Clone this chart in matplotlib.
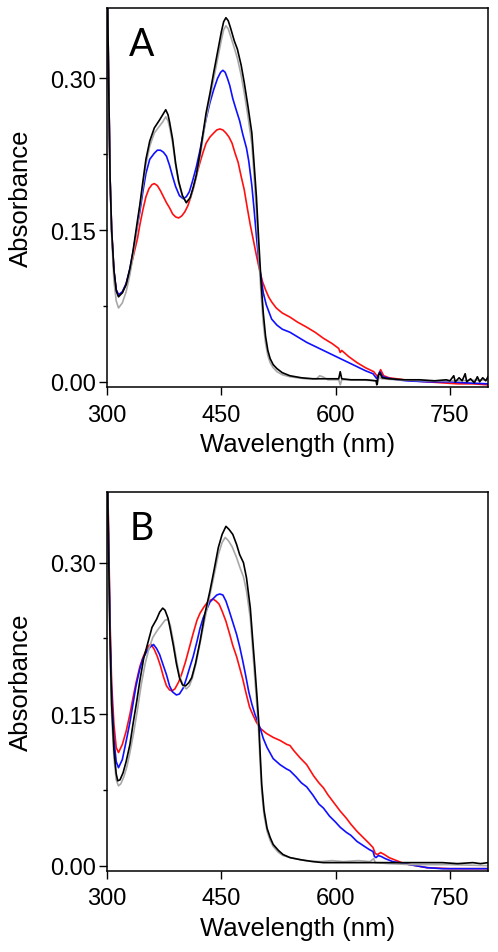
import matplotlib
matplotlib.use("Agg")
import matplotlib.pyplot as plt
from matplotlib.ticker import MultipleLocator, FormatStrFormatter

plt.rcParams['font.family'] = ['Liberation Sans', 'DejaVu Sans']

# ---- panel A spectra ----
a_black_nm = [300, 302, 304, 306, 309, 312, 315, 320, 325, 330, 334, 340, 343, 347, 351, 356, 362, 369, 373, 377,
              380, 382, 386, 390, 394, 399, 404, 409, 413, 417, 422, 426, 430, 435, 440, 444, 450, 453, 456, 459,
              462, 467, 471, 476, 480, 485, 490, 493, 496, 499, 502, 505, 508, 511, 514, 518, 523, 530, 540, 555,
              570, 590, 604, 606, 608, 620, 640, 653, 654, 656, 658, 661, 670, 690, 710, 730, 745, 750, 755, 757,
              762, 766, 770, 772, 777, 782, 786, 789, 793, 797, 800]
a_black_abs = [.42, .30, .20, .15, .11, .090, .084, .088, .096, .112, .129, .160, .175, .198, .220, .238, .251, .259, .264, .269,
               .264, .257, .240, .216, .198, .184, .177, .182, .192, .204, .226, .246, .266, .285, .306, .322, .346, .356, .360, .357,
               .350, .337, .329, .313, .296, .272, .246, .215, .183, .140, .100, .068, .045, .031, .023, .017, .013, .009, .006, .004,
               .003, .003, .003, .010, .003, .002, .002, .001, -.003, .006, .009, .004, .003, .002, .002, .001, .002, .001, .006, .000,
               .004, .001, .008, .000, .003, -.001, .005, .000, .004, .001, .005]

a_gray_nm = [300, 302, 304, 306, 309, 312, 315, 320, 325, 330, 334, 340, 343, 347, 351, 356, 362, 369, 373, 377,
             380, 382, 386, 390, 394, 399, 404, 409, 413, 417, 422, 426, 430, 435, 440, 444, 450, 453, 456, 459,
             462, 467, 471, 476, 480, 485, 490, 493, 496, 499, 502, 505, 508, 511, 514, 518, 523, 530, 540, 560,
             575, 579, 583, 590, 604, 606, 608, 630, 653, 655, 657, 660, 680, 720, 760, 800]
a_gray_abs = [.42, .30, .20, .145, .10, .080, .073, .078, .089, .106, .124, .156, .172, .194, .215, .233, .246, .253, .257, .262,
              .258, .252, .236, .214, .197, .183, .178, .181, .190, .202, .222, .242, .261, .280, .300, .315, .338, .348, .352, .349,
              .342, .330, .320, .303, .286, .262, .235, .203, .168, .126, .088, .058, .038, .026, .019, .014, .010, .007, .005, .003,
              .003, .006, .005, .002, .002, -.003, .002, .002, .001, -.002, .005, .003, .002, .001, .001, .002]

a_blue_nm = [300, 302, 304, 306, 309, 312, 315, 320, 325, 330, 335, 340, 343, 347, 351, 356, 362, 366, 370, 374,
             378, 382, 386, 390, 395, 400, 404, 408, 412, 417, 422, 426, 430, 435, 440, 445, 449, 452, 455, 458,
             461, 465, 469, 474, 478, 483, 486, 490, 493, 496, 499, 501, 505, 509, 516, 523, 530, 540, 551, 562,
             573, 584, 595, 606, 617, 628, 639, 649, 654, 658, 662, 667, 680, 693, 720, 750, 770, 800]
a_blue_abs = [.42, .30, .20, .15, .11, .091, .086, .089, .097, .112, .132, .155, .168, .188, .206, .220, .226, .229, .229, .227,
              .223, .214, .203, .193, .184, .181, .183, .188, .198, .212, .229, .245, .260, .276, .289, .300, .306, .308, .306, .300,
              .293, .280, .270, .258, .245, .231, .218, .194, .170, .144, .120, .109, .088, .076, .062, .056, .052, .049, .044, .039,
              .035, .031, .027, .023, .019, .015, .011, .008, .003, .010, .005, .004, .002, .001, .000, .000, -.001, -.002]

a_red_nm = [300, 302, 304, 306, 309, 312, 315, 320, 325, 330, 335, 340, 343, 347, 351, 355, 359, 362, 366, 370,
            374, 378, 382, 386, 390, 394, 398, 402, 406, 410, 414, 418, 422, 426, 430, 435, 440, 444, 448, 452,
            456, 460, 464, 468, 472, 476, 480, 484, 488, 492, 496, 500, 504, 508, 512, 516, 522, 530, 540, 550,
            562, 573, 584, 595, 604, 606, 608, 617, 628, 639, 650, 655, 659, 663, 670, 680, 700, 720, 740, 760,
            780, 800]
a_red_abs = [.42, .30, .20, .15, .11, .091, .086, .088, .097, .110, .126, .142, .155, .170, .183, .191, .195, .196, .194, .189,
             .183, .177, .172, .166, .163, .162, .164, .168, .174, .183, .194, .206, .217, .227, .236, .242, .246, .249, .250, .249,
             .246, .242, .236, .226, .217, .203, .190, .172, .155, .140, .125, .111, .099, .091, .084, .079, .073, .068, .064, .059,
             .054, .049, .043, .038, .033, .029, .031, .025, .019, .014, .010, .005, .012, .006, .004, .003, .001, .000, -.001, -.002,
             -.002, -.003]

# ---- panel B spectra ----
b_black_nm = [300, 302, 304, 306, 309, 312, 314, 317, 321, 325, 330, 334, 339, 343, 348, 354, 359, 365, 369, 373,
              376, 380, 383, 387, 391, 395, 399, 403, 407, 411, 416, 422, 428, 435, 440, 446, 451, 456, 460, 465,
              470, 474, 479, 483, 488, 491, 494, 497, 499, 501, 503, 506, 510, 514, 518, 525, 531, 540, 553, 570,
              584, 620, 660, 700, 740, 760, 780, 790, 800]
b_black_abs = [.42, .31, .22, .16, .115, .091, .084, .085, .092, .103, .120, .140, .163, .183, .205, .222, .236, .244, .251, .255,
               .253, .245, .234, .218, .200, .186, .179, .178, .181, .186, .200, .222, .248, .272, .291, .315, .328, .336, .333, .328,
               .318, .308, .300, .285, .255, .225, .196, .165, .143, .110, .080, .055, .037, .028, .021, .015, .011, .008, .006, .004,
               .003, .003, .003, .003, .003, .002, .003, .002, .003]

b_gray_nm = [300, 302, 304, 306, 309, 312, 315, 318, 322, 326, 330, 335, 340, 345, 350, 355, 360, 366, 371, 376,
             380, 383, 387, 391, 395, 400, 404, 408, 412, 417, 422, 428, 435, 440, 446, 451, 455, 459, 464, 470,
             474, 479, 483, 488, 491, 494, 497, 499, 501, 503, 506, 510, 514, 518, 525, 531, 540, 560, 580, 595,
             610, 630, 645, 650, 652, 670, 700, 750, 800]
b_gray_abs = [.42, .30, .21, .15, .107, .085, .079, .081, .088, .098, .112, .132, .155, .180, .200, .215, .226, .233, .238, .243,
              .244, .238, .222, .204, .188, .178, .175, .178, .186, .201, .220, .243, .268, .286, .308, .320, .325, .322, .316, .305,
              .296, .286, .272, .245, .215, .185, .155, .132, .100, .073, .050, .034, .025, .019, .013, .010, .008, .005, .004, .005,
              .004, .005, .004, .007, .003, .002, .001, .001, .000]

b_blue_nm = [300, 302, 304, 306, 309, 312, 315, 320, 325, 330, 334, 338, 343, 347, 352, 356, 361, 365, 369, 373,
             378, 382, 386, 391, 395, 400, 404, 408, 413, 418, 422, 426, 431, 435, 440, 444, 448, 452, 456, 460,
             465, 470, 474, 478, 482, 486, 490, 494, 501, 505, 510, 518, 527, 535, 540, 548, 555, 562, 570, 578,
             584, 592, 600, 606, 614, 620, 628, 636, 644, 649, 651, 653, 656, 660, 665, 675, 690, 705, 720, 740,
             800]
b_blue_abs = [.42, .32, .23, .17, .125, .103, .097, .105, .123, .142, .160, .178, .195, .205, .212, .216, .219, .215, .209, .200,
              .189, .178, .172, .169, .170, .176, .185, .195, .207, .222, .235, .245, .254, .261, .265, .268, .269, .268, .262, .253,
              .241, .229, .217, .203, .188, .172, .160, .150, .136, .126, .117, .106, .100, .096, .094, .088, .082, .078, .070, .061,
              .057, .049, .043, .038, .033, .030, .024, .020, .016, .014, .009, .008, .010, .009, .007, .004, .002, .000, -.002, -.003,
              -.003]

b_red_nm = [300, 302, 304, 306, 309, 312, 315, 320, 325, 330, 334, 338, 343, 347, 351, 355, 358, 362, 366, 370,
            374, 378, 382, 385, 389, 394, 398, 403, 408, 413, 418, 422, 427, 431, 436, 439, 443, 447, 451, 456,
            461, 465, 470, 474, 478, 482, 487, 491, 496, 501, 509, 518, 527, 536, 540, 545, 553, 562, 571, 578,
            584, 590, 600, 606, 614, 620, 628, 636, 644, 649, 652, 655, 659, 664, 670, 680, 690, 705, 720, 750,
            800]
b_red_abs = [.42, .33, .24, .18, .14, .117, .112, .120, .133, .150, .166, .181, .197, .206, .213, .218, .219, .214, .207, .198,
             .187, .178, .174, .173, .175, .182, .190, .202, .216, .230, .243, .250, .256, .260, .263, .264, .262, .259, .252, .242,
             .229, .218, .207, .196, .185, .172, .157, .150, .142, .136, .131, .127, .124, .120, .119, .114, .107, .100, .089, .082,
             .077, .070, .060, .054, .047, .041, .034, .028, .022, .018, .012, .011, .013, .011, .008, .005, .002, .000, -.002, -.003,
             -.003]

panels = [
    ("A", [(a_red_nm, a_red_abs, '#ff1010'), (a_blue_nm, a_blue_abs, '#1010ff'),
           (a_gray_nm, a_gray_abs, '#a8a8a8'), (a_black_nm, a_black_abs, 'black')]),
    ("B", [(b_red_nm, b_red_abs, '#ff1010'), (b_blue_nm, b_blue_abs, '#1010ff'),
           (b_gray_nm, b_gray_abs, '#a8a8a8'), (b_black_nm, b_black_abs, 'black')]),
]
boxes = [[0.215, 0.593, 0.765, 0.398], [0.215, 0.0853, 0.765, 0.3974]]

fig = plt.figure(figsize=(4.98, 9.53), dpi=100)

for (letter, series), box in zip(panels, boxes):
    ax = fig.add_axes(box)
    for nm, ab, col in series:
        ax.plot(nm, ab, color=col, lw=1.2)
    ax.set_xlim(300, 800)
    ax.set_ylim(-0.005, 0.37)
    ax.xaxis.set_major_locator(MultipleLocator(150))
    ax.yaxis.set_major_locator(MultipleLocator(0.15))
    ax.yaxis.set_minor_locator(MultipleLocator(0.075))
    ax.yaxis.set_major_formatter(FormatStrFormatter('%.2f'))
    ax.tick_params(which='major', direction='out', length=6, width=1, labelsize=17, pad=2)
    ax.tick_params(which='minor', direction='out', length=3, width=1)
    ax.tick_params(axis='x', pad=6)
    for sp in ax.spines.values():
        sp.set_linewidth(1.1)
    ax.set_xlabel("Wavelength (nm)", fontsize=18.5, labelpad=5)
    ax.set_ylabel("Absorbance", fontsize=18.5)
    ax.yaxis.set_label_coords(-0.195, 0.5)
    ax.text(0.058, 0.875, letter, transform=ax.transAxes, fontsize=27,
            family='Lato', ha='left', va='baseline')

fig.savefig("out.png", dpi=100)
